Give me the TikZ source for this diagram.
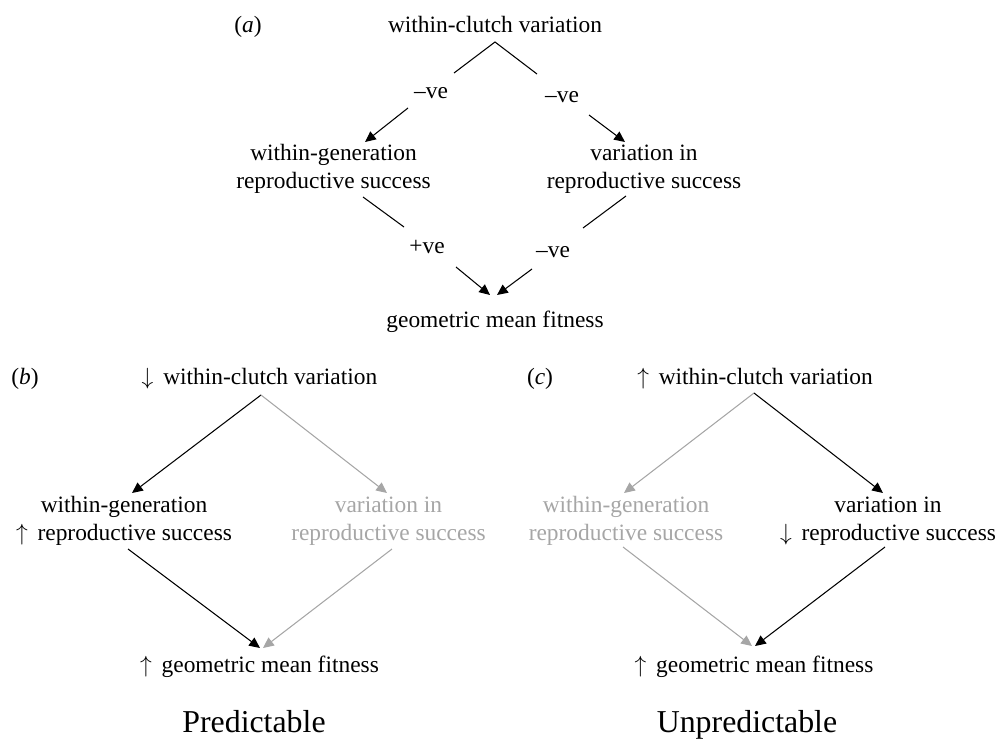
\documentclass[tikz,border=0pt]{standalone}
\usepackage{fontspec}
\setmainfont{Liberation Serif}
\usetikzlibrary{arrows.meta}
\newcommand{\up}{$\uparrow$\hspace{0.42em}}
\newcommand{\down}{$\downarrow$\hspace{0.42em}}
\tikzset{
	txt/.style={anchor=base, inner sep=0pt, align=center, font=\fontsize{10}{11.8}\selectfont},
	big/.style={anchor=base, inner sep=0pt, font=\fontsize{13.6}{16}\selectfont},
	faded/.style={color=black!35},
	tip/.style={-{Triangle[length=4.6pt,width=4.2pt]}}
}

\begin{document}
\begin{tikzpicture}[x=0.427pt, y=-0.427pt, line width=0.45pt]
		%%%%% START %%%%%
		\useasboundingbox (0,0) rectangle (1001,738);
		
		%% (a)
		\node[txt] (lbla) at (248,32) {(\textit{a})};
		\node[txt] (atop) at (495,32) {within-clutch variation};
		\node[txt] (aneg1) at (431,98) {–ve};
		\node[txt] (aneg2) at (562,102) {–ve};
		\node[txt] (awg) at (333.5,188) {within-generation\\reproductive success};
		\node[txt] (avar) at (644,188) {variation in\\reproductive success};
		\node[txt] (apos) at (427,253) {+ve};
		\node[txt] (aneg3) at (553,257) {–ve};
		\node[txt] (agm) at (495,327) {geometric mean fitness};
		
		\coordinate (aapex) at (495,42);
		\coordinate (al1) at (454,73);
		\coordinate (al2) at (408,108);
		\coordinate (al3) at (365,142);
		\coordinate (ar1) at (537,74);
		\coordinate (ar2) at (589,115);
		\coordinate (ar3) at (625,142);
		\coordinate (alb1) at (363,197);
		\coordinate (alb2) at (404,227);
		\coordinate (alb3) at (456,267);
		\coordinate (alb4) at (490,295);
		\coordinate (arb1) at (626,196);
		\coordinate (arb2) at (583,228);
		\coordinate (arb3) at (532,269);
		\coordinate (arb4) at (497,295);
		
		\draw (al1) -- (aapex) -- (ar1);
		\draw[tip] (al2) -- (al3);
		\draw[tip] (ar2) -- (ar3);
		\draw (alb1) -- (alb2);
		\draw[tip] (alb3) -- (alb4);
		\draw (arb1) -- (arb2);
		\draw[tip] (arb3) -- (arb4);
		
		%% (b)
		\node[txt] (lblb) at (25,384) {(\textit{b})};
		\node[txt] (btop) at (259.5,384) {\down within-clutch variation};
		\node[txt] (bwg) at (124,540.5) {within-generation\\\up reproductive success};
		\node[txt, faded] (bvar) at (388.5,540.5) {variation in\\reproductive success};
		\node[txt] (bgm) at (259.5,672) {\up geometric mean fitness};
		\node[big] (bname) at (254,732) {Predictable};
		
		\coordinate (bapex) at (261,395);
		\coordinate (bl1) at (132,493);
		\coordinate (br1) at (387,493);
		\coordinate (bl2) at (128,549);
		\coordinate (br2) at (392,549);
		\coordinate (bl3) at (260,648);
		\coordinate (br3) at (263,648);
		
		\draw[tip] (bapex) -- (bl1);
		\draw[tip, faded] (bapex) -- (br1);
		\draw[tip] (bl2) -- (bl3);
		\draw[tip, faded] (br2) -- (br3);
		
		%% (c)
		\node[txt] (lblc) at (540,384) {(\textit{c})};
		\node[txt] (ctop) at (755,384) {\up within-clutch variation};
		\node[txt, faded] (cwg) at (626,540.5) {within-generation\\reproductive success};
		\node[txt] (cvar) at (888,540.5) {variation in\\\down reproductive success};
		\node[txt] (cgm) at (754,672) {\up geometric mean fitness};
		\node[big] (cname) at (747,732) {Unpredictable};
		
		\coordinate (capex) at (754,393);
		\coordinate (cl1) at (624,493);
		\coordinate (cr1) at (883,493);
		\coordinate (cl2) at (623,547);
		\coordinate (cr2) at (885,547);
		\coordinate (cl3) at (752,646);
		\coordinate (cr3) at (755,646);
		
		\draw[tip, faded] (capex) -- (cl1);
		\draw[tip] (capex) -- (cr1);
		\draw[tip, faded] (cl2) -- (cl3);
		\draw[tip] (cr2) -- (cr3);
		
		%%%%% END %%%%%
\end{tikzpicture}
\end{document}
